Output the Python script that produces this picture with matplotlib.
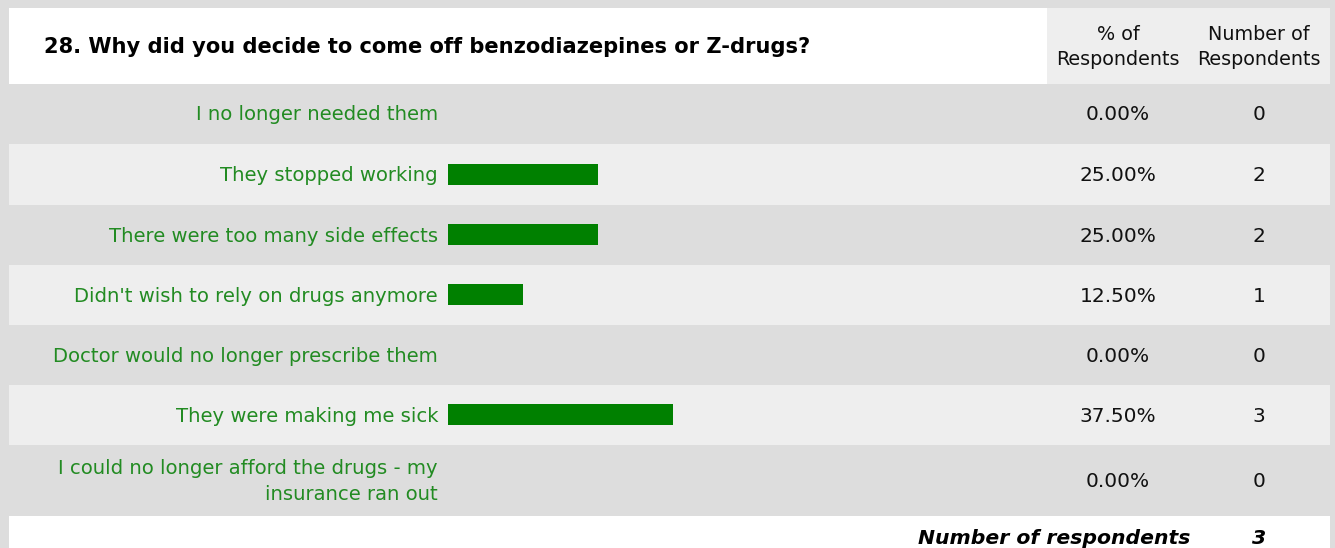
import matplotlib
matplotlib.use("Agg")
import matplotlib.pyplot as plt
from matplotlib.patches import Rectangle

title = "28. Why did you decide to come off benzodiazepines or Z-drugs?"
answers = [
    "I no longer needed them",
    "They stopped working",
    "There were too many side effects",
    "Didn't wish to rely on drugs anymore",
    "Doctor would no longer prescribe them",
    "They were making me sick",
    "I could no longer afford the drugs - my\ninsurance ran out",
]
percent = [0.0, 25.0, 25.0, 12.5, 0.0, 37.5, 0.0]
counts = [0, 2, 2, 1, 0, 3, 0]
total_respondents = 3
col_headers = ["% of\nRespondents", "Number of\nRespondents"]
footer_label = "Number of respondents"

W, H = 1335, 548
fig = plt.figure(figsize=(W / 100, H / 100), dpi=100)
fig.patch.set_facecolor("#dddddd")

# layout axes in pixel units
lay = fig.add_axes([0, 0, 1, 1])
lay.set_xlim(0, W)
lay.set_ylim(H, 0)
lay.axis("off")

FONT = "DejaVu Sans"
GREEN_TXT = "#228b22"
BAR = "#008000"
BODY = 14.1

left, right = 9, 1330
split = 1047
pct_x, cnt_x = 1118, 1259
label_x = 438

# header
lay.add_patch(Rectangle((left, 8), split - left, 76, color="white", lw=0))
lay.add_patch(Rectangle((split, 8), right - split, 76, color="#eeeeee", lw=0))
lay.text(44, 47, title, fontsize=15.1, fontweight="bold", family=FONT,
         ha="left", va="center", color="black")
lay.text(pct_x, 47, col_headers[0], fontsize=13.8, family=FONT, ha="center",
         va="center", color="#111111", linespacing=1.45)
lay.text(cnt_x, 47, col_headers[1], fontsize=13.8, family=FONT, ha="center",
         va="center", color="#111111", linespacing=1.45)

# rows
edges = [84, 144, 205, 265, 325, 385, 445, 516]
centers = []
for i in range(len(answers)):
    y0, y1 = edges[i], edges[i + 1]
    centers.append((y0 + y1) / 2)
    shade = "#dddddd" if i % 2 == 0 else "#eeeeee"
    lay.add_patch(Rectangle((left, y0), right - left, y1 - y0, color=shade, lw=0))
    lay.text(label_x, (y0 + y1) / 2 + 1, answers[i], fontsize=BODY, family=FONT,
             ha="right", va="center", color=GREEN_TXT, linespacing=1.5)
    lay.text(pct_x, (y0 + y1) / 2 + 1, f"{percent[i]:.2f}%", fontsize=14.5,
             family=FONT, ha="center", va="center", color="#111111")
    lay.text(cnt_x, (y0 + y1) / 2 + 1, f"{counts[i]}", fontsize=14.5,
             family=FONT, ha="center", va="center", color="#111111")

# footer
lay.add_patch(Rectangle((left, 516), right - left, H - 516, color="white", lw=0))
lay.text(1190, 538.5, footer_label, fontsize=14.7, fontweight="bold",
         style="italic", family=FONT, ha="right", va="center", color="black")
lay.text(cnt_x, 538.5, f"{total_respondents}", fontsize=14.7, fontweight="bold",
         style="italic", family=FONT, ha="center", va="center", color="black")

# bar axes: 600 px wide for 0..100 %, rows in the same vertical pixel units
bx0, bx1 = 448, 1048
by0, by1 = edges[0], edges[-1]
bax = fig.add_axes([bx0 / W, 1 - by1 / H, (bx1 - bx0) / W, (by1 - by0) / H])
bax.set_xlim(0, 100)
bax.set_ylim(by1, by0)
bax.axis("off")
bax.patch.set_alpha(0)
bax.barh(centers, percent, height=21, left=0, color=BAR, lw=0)

fig.savefig("out.png", dpi=100, facecolor=fig.get_facecolor())
